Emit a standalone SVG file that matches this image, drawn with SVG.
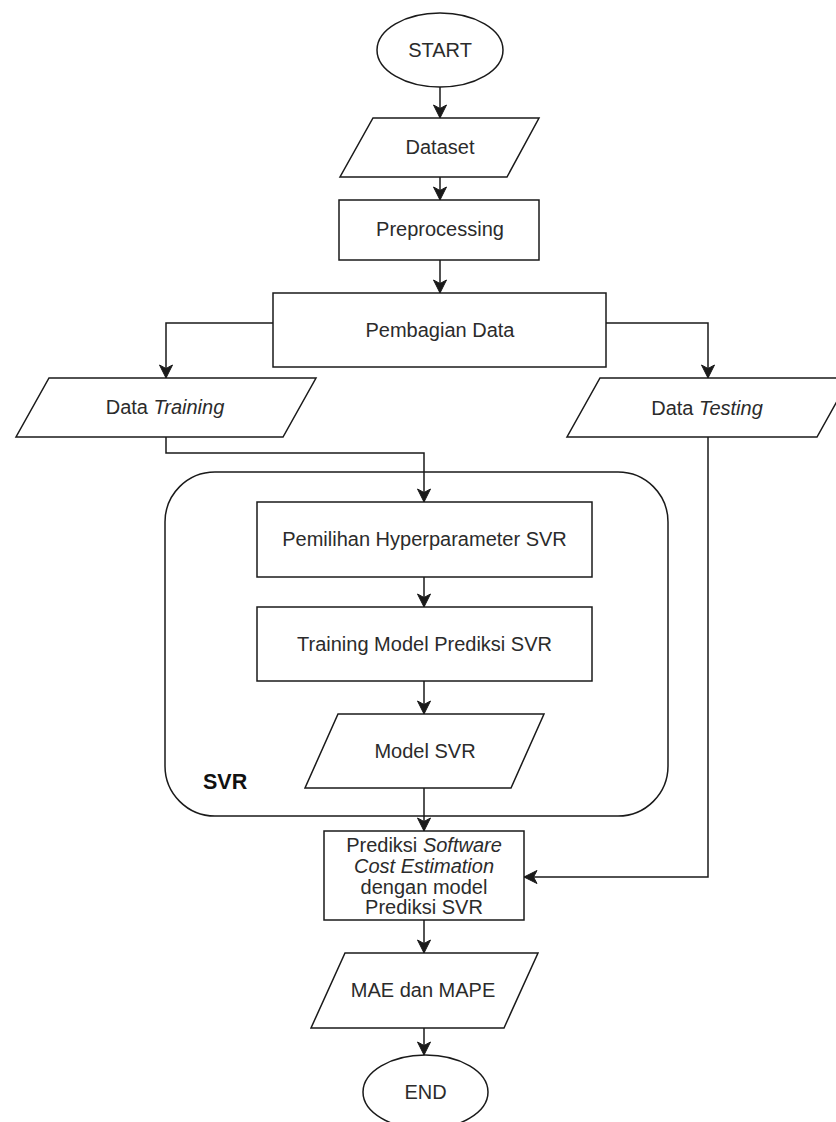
<svg xmlns="http://www.w3.org/2000/svg" width="836" height="1122" viewBox="0 0 836 1122">
<style>
.s{fill:#fff;stroke:#1a1a1a;stroke-width:1.5}
.c{fill:none;stroke:#1a1a1a;stroke-width:1.5}
.t{font-family:"Liberation Sans",Arial,sans-serif;font-size:20px;fill:#2b2b2b;text-anchor:middle;dominant-baseline:central}
.i{font-style:italic}
.b{font-family:"Liberation Sans",Arial,sans-serif;font-size:21.5px;font-weight:bold;fill:#111}
</style>
<defs>
<marker id="ah" markerUnits="userSpaceOnUse" markerWidth="15" markerHeight="15" viewBox="0 0 15 15" refX="14" refY="7.5" orient="auto">
<path d="M1,1 L14,7.5 L1,14 L4.5,7.5 z" fill="#1a1a1a" stroke="#1a1a1a" stroke-width="1"/>
</marker>
</defs>
<rect width="836" height="1122" fill="#fff"/>
<g id="svr-group">
<rect class="s" x="165" y="472" width="503" height="344" rx="50" ry="50"/>
<text class="b" x="203" y="789">SVR</text>
</g>
<g id="connectors">
<path class="c" d="M440,87 V118" marker-end="url(#ah)"/>
<path class="c" d="M440,177 V200" marker-end="url(#ah)"/>
<path class="c" d="M440,260 V293" marker-end="url(#ah)"/>
<path class="c" d="M273,323 H166 V378" marker-end="url(#ah)"/>
<path class="c" d="M606,323 H708 V378" marker-end="url(#ah)"/>
<path class="c" d="M166,437 V453 H424 V502" marker-end="url(#ah)"/>
<path class="c" d="M424,577 V607" marker-end="url(#ah)"/>
<path class="c" d="M424,681 V714" marker-end="url(#ah)"/>
<path class="c" d="M424,788 V831" marker-end="url(#ah)"/>
<path class="c" d="M708,437 V877 H524" marker-end="url(#ah)"/>
<path class="c" d="M424,920 V953" marker-end="url(#ah)"/>
<path class="c" d="M424,1028 V1055" marker-end="url(#ah)"/>
</g>
<g id="start">
<ellipse class="s" cx="440" cy="50" rx="63" ry="37"/>
<text class="t" x="440" y="50">START</text>
</g>
<g id="dataset">
<polygon class="s" points="373,118 539,118 507,177 340,177"/>
<text class="t" x="440" y="147">Dataset</text>
</g>
<g id="preprocessing">
<rect class="s" x="339" y="200" width="200" height="60"/>
<text class="t" x="440" y="229">Preprocessing</text>
</g>
<g id="pembagian">
<rect class="s" x="273" y="293" width="333" height="74"/>
<text class="t" x="440" y="330">Pembagian Data</text>
</g>
<g id="data-training">
<polygon class="s" points="49,378 316,378 283,437 16,437"/>
<text class="t" x="165" y="407">Data <tspan class="i">Training</tspan></text>
</g>
<g id="data-testing">
<polygon class="s" points="600,378 850,378 817,437 567,437"/>
<text class="t" x="707" y="408">Data <tspan class="i">Testing</tspan></text>
</g>
<g id="pemilihan">
<rect class="s" x="257" y="502" width="335" height="75"/>
<text class="t" x="424.5" y="539">Pemilihan Hyperparameter SVR</text>
</g>
<g id="training">
<rect class="s" x="257" y="607" width="335" height="74"/>
<text class="t" x="424.5" y="644">Training Model Prediksi SVR</text>
</g>
<g id="model-svr">
<polygon class="s" points="338,714 544,714 511,788 305,788"/>
<text class="t" x="425" y="751">Model SVR</text>
</g>
<g id="prediksi">
<rect class="s" x="324" y="831" width="200" height="89"/>
<text class="t" x="424" y="845">Prediksi <tspan class="i">Software</tspan></text>
<text class="t i" x="424" y="866">Cost Estimation</text>
<text class="t" x="424" y="887">dengan model</text>
<text class="t" x="424" y="907">Prediksi SVR</text>
</g>
<g id="mae-mape">
<polygon class="s" points="345,953 538,953 504,1028 311,1028"/>
<text class="t" x="423" y="990">MAE dan MAPE</text>
</g>
<g id="end">
<ellipse class="s" cx="425.5" cy="1092" rx="62.5" ry="37"/>
<text class="t" x="425.5" y="1092">END</text>
</g>
</svg>
